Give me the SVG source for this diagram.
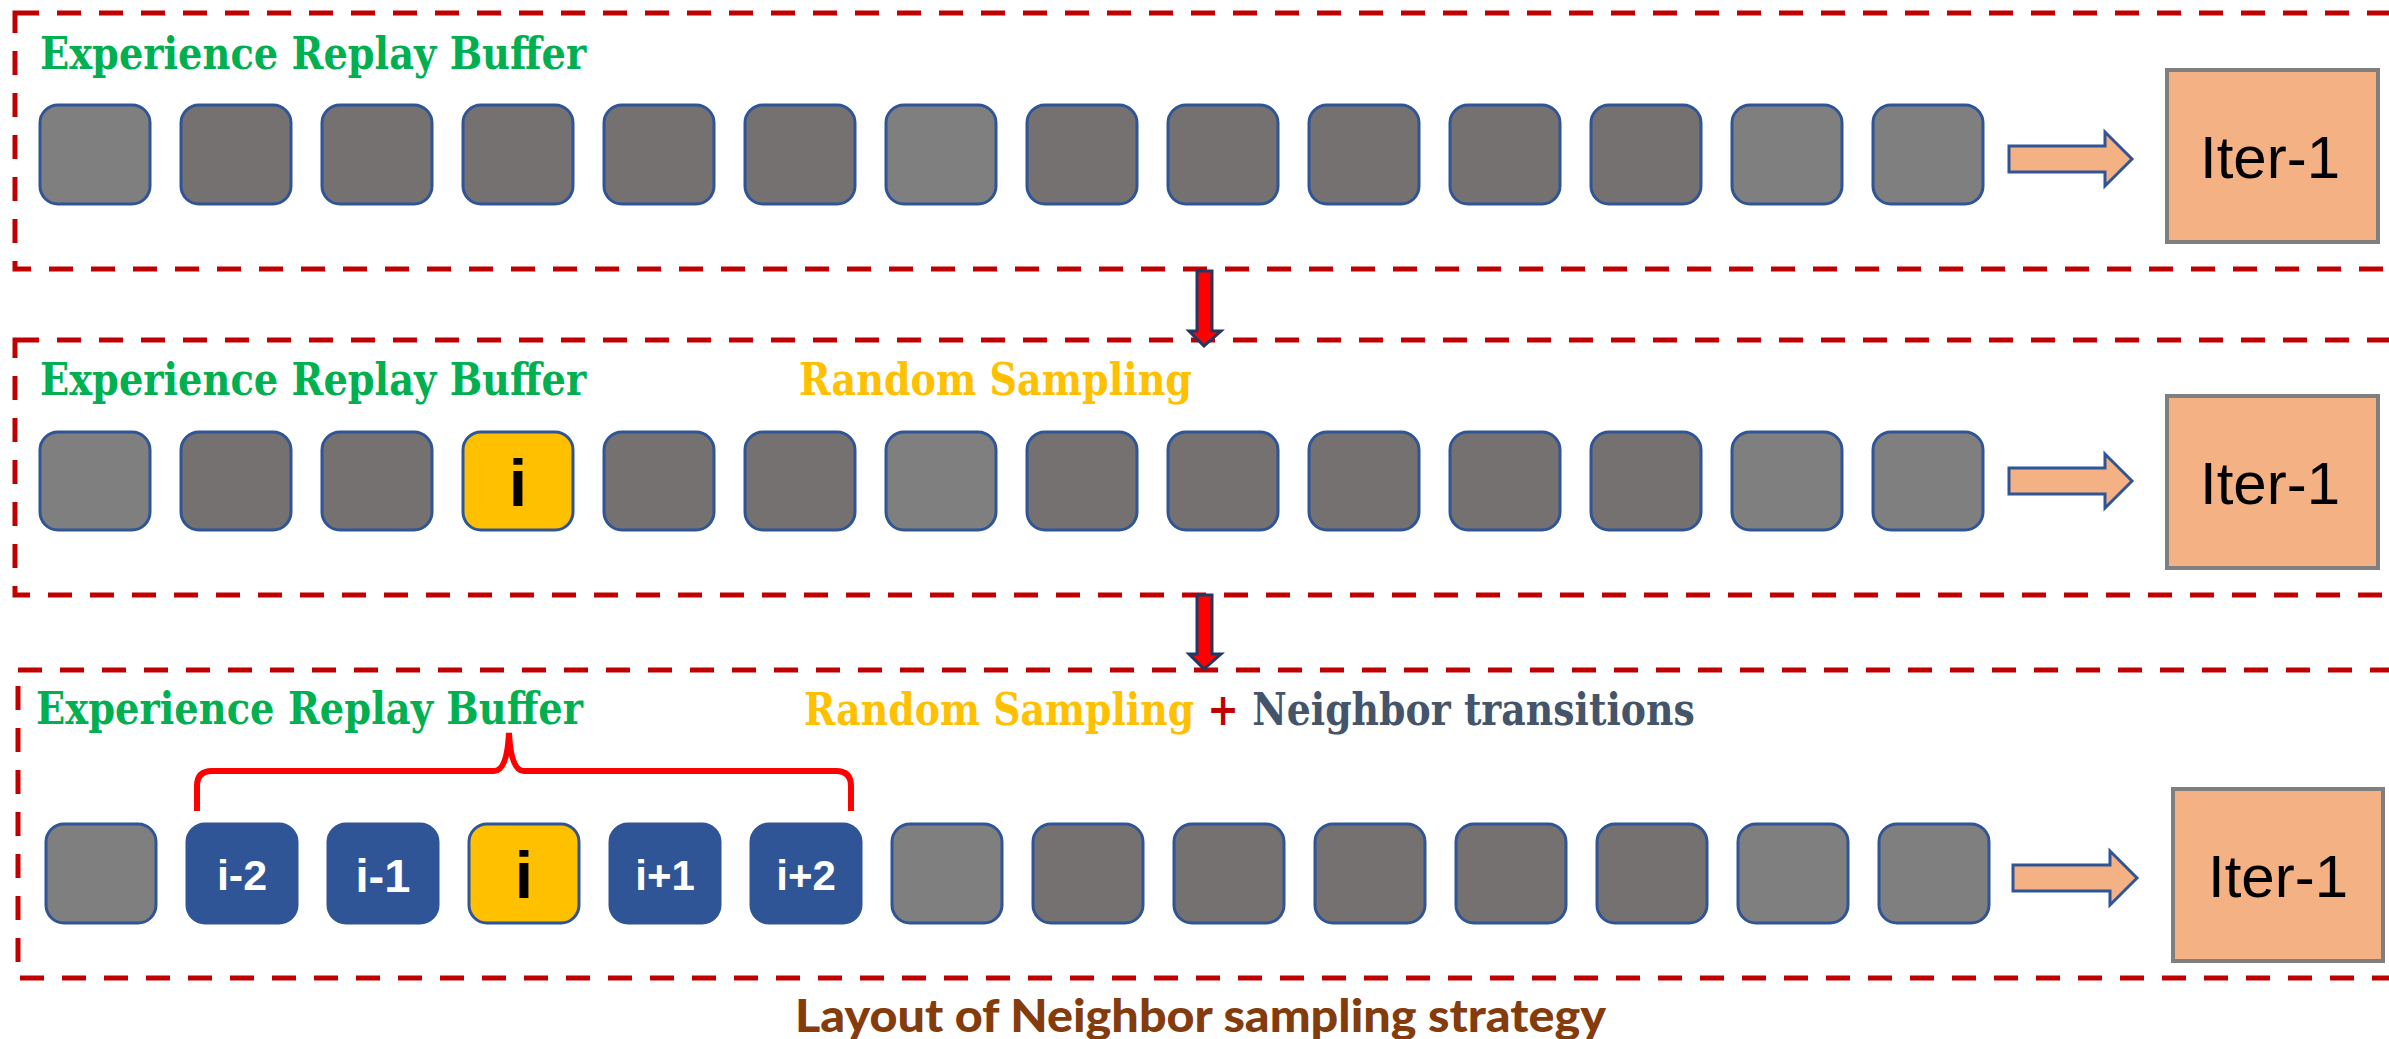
<svg xmlns="http://www.w3.org/2000/svg" width="2389" height="1039" viewBox="0 0 2389 1039">
<defs>
<style>
.panel{fill:none;stroke:#C00000;stroke-width:5;stroke-dasharray:24 18}
.box{stroke:#2F5597;stroke-width:3}
.lt{fill:#7F7F7F}
.dk{fill:#767171}
.yl{fill:#FFC000}
.bl{fill:#2F5597}
.iter{fill:#F4B183;stroke:#7F7F7F;stroke-width:4}
.iterT{font-family:"Liberation Sans",Arial,sans-serif;font-size:60px;fill:#000;text-anchor:middle}
.blk{fill:#F4B183;stroke:#2F5597;stroke-width:3}
.down{fill:#FF0000;stroke:#203864;stroke-width:3}
.hdr{font-family:"DejaVu Serif","Liberation Serif",serif;font-weight:bold;font-size:44px}
.g{fill:#00B050}
.y{fill:#FFC000}
.nb{fill:#44546A}
.pl{fill:#C00000}
.lbl{font-family:"Liberation Sans",Arial,sans-serif;font-weight:bold;fill:#fff;text-anchor:middle}
.ilbl{font-family:"Liberation Sans",Arial,sans-serif;font-weight:bold;fill:#000;text-anchor:middle;font-size:66px}
</style>
</defs>
<rect width="2389" height="1039" fill="#fff"/>

<g id="panel1">
<rect class="panel" x="15" y="13" width="2400" height="256"/>
<text class="hdr g" transform="translate(40,69) scale(0.86,1)" x="0" y="0" textLength="635" lengthAdjust="spacingAndGlyphs">Experience Replay Buffer</text>
<g id="p1-boxes">
<rect class="box lt" x="40" y="105" width="110" height="99" rx="18"/>
<rect class="box dk" x="181" y="105" width="110" height="99" rx="18"/>
<rect class="box dk" x="322" y="105" width="110" height="99" rx="18"/>
<rect class="box dk" x="463" y="105" width="110" height="99" rx="18"/>
<rect class="box dk" x="604" y="105" width="110" height="99" rx="18"/>
<rect class="box dk" x="745" y="105" width="110" height="99" rx="18"/>
<rect class="box lt" x="886" y="105" width="110" height="99" rx="18"/>
<rect class="box dk" x="1027" y="105" width="110" height="99" rx="18"/>
<rect class="box dk" x="1168" y="105" width="110" height="99" rx="18"/>
<rect class="box dk" x="1309" y="105" width="110" height="99" rx="18"/>
<rect class="box dk" x="1450" y="105" width="110" height="99" rx="18"/>
<rect class="box dk" x="1591" y="105" width="110" height="99" rx="18"/>
<rect class="box lt" x="1732" y="105" width="110" height="99" rx="18"/>
<rect class="box lt" x="1873" y="105" width="110" height="99" rx="18"/>
</g>
<polygon class="blk" points="2009,146 2105,146 2105,132 2132,159 2105,186 2105,172 2009,172"/>
<g id="iter1">
<rect class="iter" x="2167" y="70" width="211" height="172"/>
<text class="iterT" x="2270" y="178">Iter-1</text>
</g>
</g>

<g id="panel2">
<rect class="panel" x="15" y="340" width="2400" height="255"/>
<text class="hdr g" transform="translate(40,395) scale(0.86,1)" x="0" y="0" textLength="635" lengthAdjust="spacingAndGlyphs">Experience Replay Buffer</text>
<text class="hdr y" transform="translate(799,395) scale(0.86,1)" x="0" y="0" textLength="457" lengthAdjust="spacingAndGlyphs">Random Sampling</text>
<g id="p2-boxes">
<rect class="box lt" x="40" y="432" width="110" height="98" rx="18"/>
<rect class="box dk" x="181" y="432" width="110" height="98" rx="18"/>
<rect class="box dk" x="322" y="432" width="110" height="98" rx="18"/>
<g id="p2-i">
<rect class="box yl" x="463" y="432" width="110" height="98" rx="18"/>
<text class="ilbl" x="518" y="506">i</text>
</g>
<rect class="box dk" x="604" y="432" width="110" height="98" rx="18"/>
<rect class="box dk" x="745" y="432" width="110" height="98" rx="18"/>
<rect class="box lt" x="886" y="432" width="110" height="98" rx="18"/>
<rect class="box dk" x="1027" y="432" width="110" height="98" rx="18"/>
<rect class="box dk" x="1168" y="432" width="110" height="98" rx="18"/>
<rect class="box dk" x="1309" y="432" width="110" height="98" rx="18"/>
<rect class="box dk" x="1450" y="432" width="110" height="98" rx="18"/>
<rect class="box dk" x="1591" y="432" width="110" height="98" rx="18"/>
<rect class="box lt" x="1732" y="432" width="110" height="98" rx="18"/>
<rect class="box lt" x="1873" y="432" width="110" height="98" rx="18"/>
</g>
<polygon class="blk" points="2009,468 2105,468 2105,454 2132,481 2105,508 2105,494 2009,494"/>
<g id="iter2">
<rect class="iter" x="2167" y="396" width="211" height="172"/>
<text class="iterT" x="2270" y="504">Iter-1</text>
</g>
</g>

<g id="panel3">
<rect class="panel" x="18" y="670" width="2400" height="308"/>
<text class="hdr g" transform="translate(36,724) scale(0.86,1)" x="0" y="0" textLength="636" lengthAdjust="spacingAndGlyphs">Experience Replay Buffer</text>
<text class="hdr" transform="translate(804,725) scale(0.86,1)" x="0" y="0"><tspan class="y">Random Sampling</tspan><tspan class="pl"> + </tspan><tspan class="nb">Neighbor transitions</tspan></text>
<path id="brace" d="M197,811 L197,786 Q197,771 212,771 L494,771 Q507,771 509,733 Q511,771 524,771 L836,771 Q851,771 851,786 L851,811" fill="none" stroke="#FF0000" stroke-width="6"/>
<g id="p3-boxes">
<rect class="box lt" x="46" y="824" width="110" height="99" rx="18"/>
<g id="p3-im2">
<rect class="box bl" x="187" y="824" width="110" height="99" rx="18"/>
<text class="lbl" x="242" y="890" font-size="43">i-2</text>
</g>
<g id="p3-im1">
<rect class="box bl" x="328" y="824" width="110" height="99" rx="18"/>
<text class="lbl" x="383" y="892" font-size="47">i-1</text>
</g>
<g id="p3-i">
<rect class="box yl" x="469" y="824" width="110" height="99" rx="18"/>
<text class="ilbl" x="524" y="898">i</text>
</g>
<g id="p3-ip1">
<rect class="box bl" x="610" y="824" width="110" height="99" rx="18"/>
<text class="lbl" x="665" y="890" font-size="42">i+1</text>
</g>
<g id="p3-ip2">
<rect class="box bl" x="751" y="824" width="110" height="99" rx="18"/>
<text class="lbl" x="806" y="890" font-size="42">i+2</text>
</g>
<rect class="box lt" x="892" y="824" width="110" height="99" rx="18"/>
<rect class="box dk" x="1033" y="824" width="110" height="99" rx="18"/>
<rect class="box dk" x="1174" y="824" width="110" height="99" rx="18"/>
<rect class="box dk" x="1315" y="824" width="110" height="99" rx="18"/>
<rect class="box dk" x="1456" y="824" width="110" height="99" rx="18"/>
<rect class="box dk" x="1597" y="824" width="110" height="99" rx="18"/>
<rect class="box lt" x="1738" y="824" width="110" height="99" rx="18"/>
<rect class="box lt" x="1879" y="824" width="110" height="99" rx="18"/>
</g>
<polygon class="blk" points="2013,865 2110,865 2110,851 2137,878 2110,905 2110,891 2013,891"/>
<g id="iter3">
<rect class="iter" x="2173" y="789" width="210" height="172"/>
<text class="iterT" x="2278" y="897">Iter-1</text>
</g>
</g>

<g id="connectors">
<polygon class="down" points="1197,271 1212,271 1212,331 1221,331 1204,346 1189,331 1197,331"/>
<polygon class="down" points="1197,595 1212,595 1212,654 1221,654 1204,669 1189,654 1197,654"/>
</g>

<text id="title" x="795" y="1032" font-family="Lato,'Liberation Sans',sans-serif" font-weight="900" font-size="46" fill="#843C0C" textLength="811" lengthAdjust="spacingAndGlyphs">Layout of Neighbor sampling strategy</text>
</svg>
